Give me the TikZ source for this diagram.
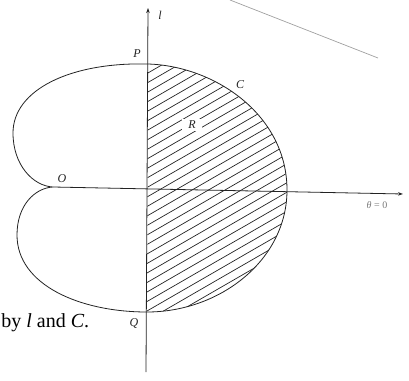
\documentclass[tikz,border=0pt]{standalone}
\usepackage{fontspec}
\setmainfont{Liberation Serif}
\usetikzlibrary{arrows.meta}
\definecolor{inkgray}{RGB}{35,35,35}
\definecolor{straygray}{RGB}{160,160,160}
\definecolor{labgray}{RGB}{120,120,120}
\newcommand{\rightarc}{(148,64) .. controls (215,66) and (287,115) .. (287,190) .. controls (287,260) and (220,312) .. (147,312)}
\newcommand{\hatchline}[1]{\draw[hatch] (147,#1) -- ++(260,-150.1);}
\newcommand{\ptlabel}[3]{\node[ptlab] (#1) at #2 {#3};}

\begin{document}
\begin{tikzpicture}[x=1pt,y=-1pt,line width=0.8pt,
	ptlab/.style={font=\fontsize{12}{12}\selectfont\itshape,inner sep=1pt,text=inkgray},
	hatch/.style={line width=0.7pt,inkgray}]
		\useasboundingbox (0,0) rectangle (409,380);
		\begin{scope}
			\clip \rightarc -- cycle;
			\foreach \k [evaluate=\k as \y using 64+9.5*\k] in {0,...,35} {\hatchline{\y}}
		\end{scope}
		\coordinate (pole) at (53,187); \coordinate (thetaend) at (403,194);
		\coordinate (lbot) at (146,372); \coordinate (ltop) at (148,8);
		\coordinate (stray1) at (230,0); \coordinate (stray2) at (378,58);
		\draw[inkgray] (pole) .. controls (33,186) and (13,165) .. (13,133) .. controls (13,90) and (70,62) .. \rightarc
			.. controls (80,312) and (17,285) .. (17,235) .. controls (17,205) and (35,188) .. (pole);
		\draw[inkgray,-{Stealth[length=5pt,width=3.5pt]}] (pole) -- (thetaend);
		\draw[inkgray,-{Stealth[length=5pt,width=3.5pt]}] (lbot) -- (ltop);
		\draw[straygray,line width=0.7pt] (stray1) -- (stray2);
		\ptlabel{Plab}{(137,54)}{P}\ptlabel{Clab}{(240,85)}{C}\ptlabel{Olab}{(62,179)}{O}\ptlabel{Qlab}{(134,323)}{Q}\ptlabel{llab}{(160,15)}{l}
		\node[ptlab,fill=white,inner xsep=6pt,inner ysep=2pt] (Rlab) at (192,125) {R};
		\node[font=\fontsize{10}{10}\selectfont,text=labgray] (thetalab) at (377,205) {\textit{θ} = 0};
		\node[anchor=west,font=\fontsize{20}{20}\selectfont,inner sep=0pt] (caption) at (1,323) {by \textit{l} and \textit{C}.};
\end{tikzpicture}
\end{document}
